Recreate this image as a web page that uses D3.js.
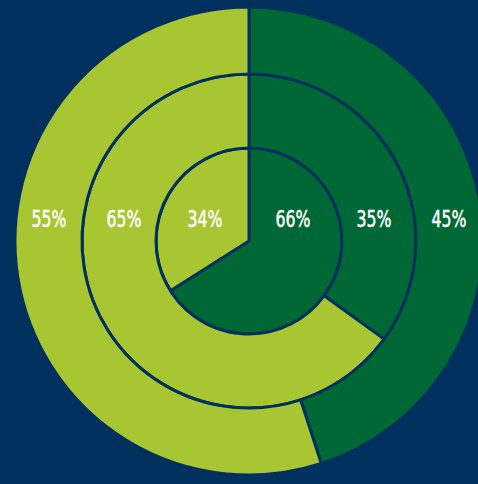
<!DOCTYPE html>
<html>
<head>
<meta charset="utf-8">
<script src="https://cdn.jsdelivr.net/npm/d3@7"></script>
<style>
  html, body { margin: 0; padding: 0; background: #00305e; overflow: hidden; }
  text { font-family: "Liberation Sans Narrow", "DejaVu Sans Condensed", sans-serif; }
</style>
</head>
<body>
<script>
// size of the page
var width = 478,
    height = 484;

// ring names, from the centre outwards
var rings = ["inner", "middle", "outer"];
// share of the dark green part (starts at 12 o'clock, clockwise)
var darkValues = [66, 35, 45];
// share of the light green part
var lightValues = [34, 65, 55];

var colors = ["#006834", "#a7c631"];
var navy = "#00305e";

var cx = 249, cy = 241;
// radii of ring edges
var radius = d3.scaleOrdinal()
    .domain(rings)
    .range([[0, 93], [93, 167], [167, 234]]);
// how far from the centre the labels go
var labelRadius = d3.scaleOrdinal()
    .domain(rings)
    .range([44, 125, 200]);

var svg = d3.select("body")
    .append("svg")
    .attr("width", width)
    .attr("height", height);

svg.append("rect")
    .attr("width", width)
    .attr("height", height)
    .attr("fill", navy);

var g = svg.append("g")
    .attr("transform", "translate(" + cx + "," + cy + ")");

var pie = d3.pie().sort(null).value(function(d) { return d; });

rings.forEach(function(name, i) {
    var r = radius(name);
    var arc = d3.arc().innerRadius(r[0]).outerRadius(r[1]);
    var slices = pie([darkValues[i], lightValues[i]]);

    g.append("g")
        .selectAll("path")
        .data(slices)
        .enter().append("path")
            .attr("d", arc)
            .attr("fill", function(d, j) { return colors[j]; })
            .attr("stroke", navy)
            .attr("stroke-width", 3)
            .attr("stroke-linejoin", "round");

    // labels sit on one horizontal line, right side dark, left side light
    var mid = labelRadius(name);
    var labelData = [
        { x: mid, v: darkValues[i] },
        { x: -mid, v: lightValues[i] }
    ];
    g.selectAll(".lab" + i)
        .data(labelData)
        .enter().append("text")
            .attr("class", "lab" + i)
            .attr("transform", function(d) { return "translate(" + d.x + ",-14) scale(0.76,1)"; })
            .attr("text-anchor", "middle")
            .attr("fill", "#ffffff")
            .attr("stroke", "#ffffff")
            .attr("stroke-width", 0.5)
            .attr("font-size", "23px")
            .text(function(d) { return d.v + "%"; });
});
</script>
</body>
</html>
